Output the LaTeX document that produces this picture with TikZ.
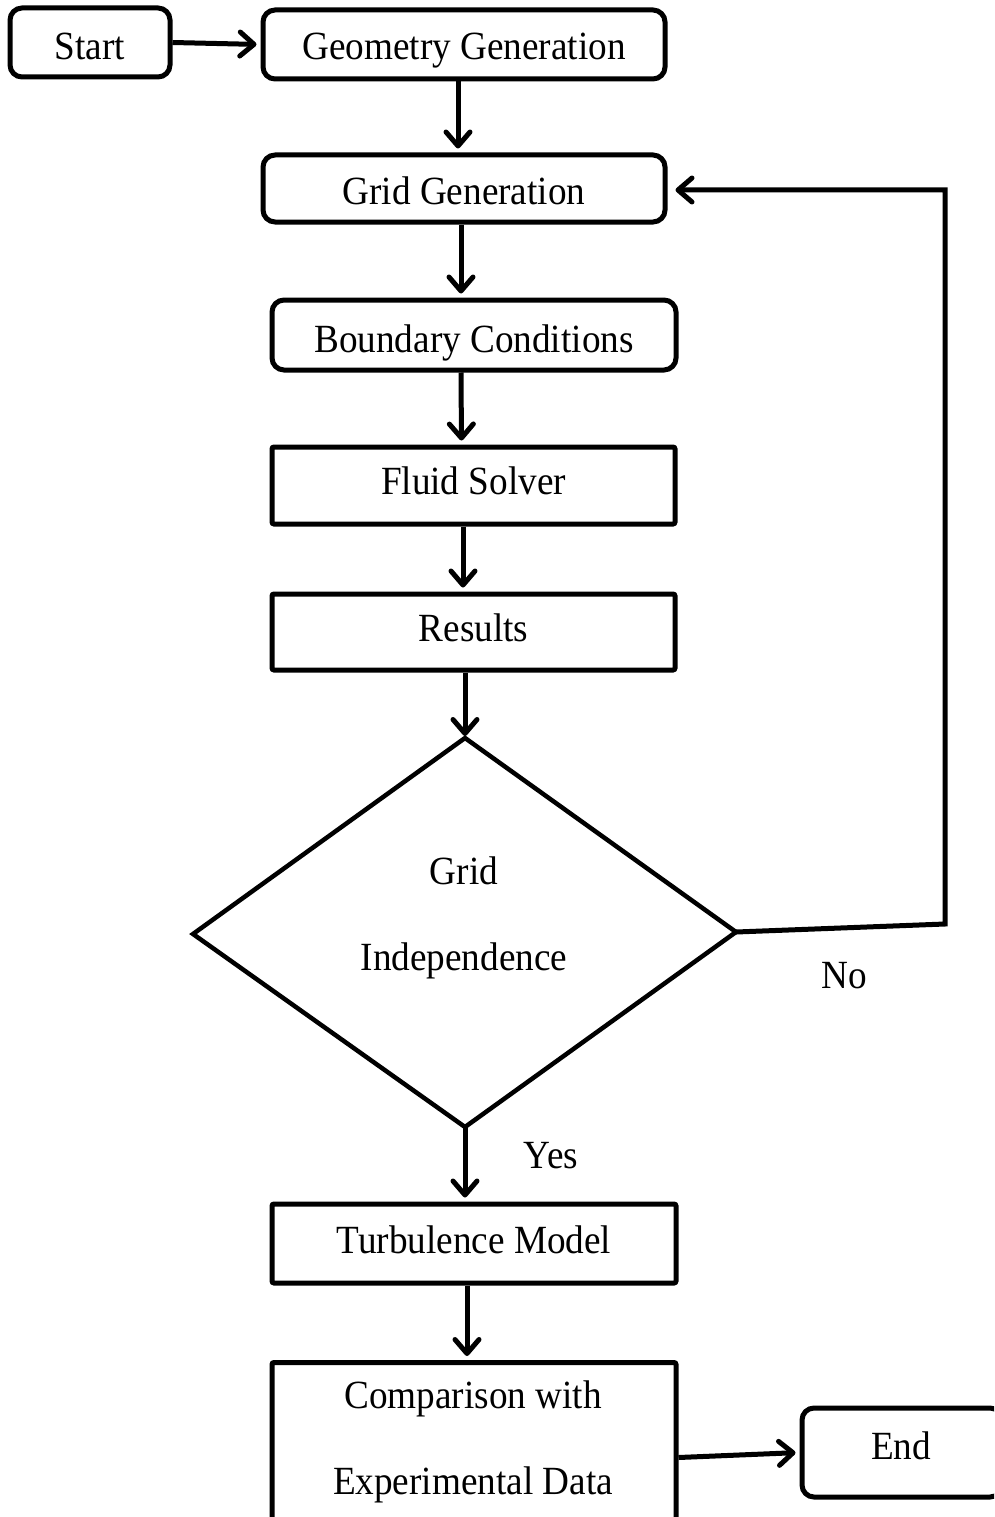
\documentclass[tikz,border=0pt]{standalone}
\usepackage{fontspec}
\setmainfont{Liberation Serif}[FakeStretch=0.93]
\usetikzlibrary{arrows.meta}
\tikzset{
  boxbase/.style={draw, line width=5pt, inner sep=0pt, text height=27pt, text depth=0pt,
    font=\fontsize{40}{48}\selectfont},
  roundbox/.style={boxbase, rounded corners=12pt},
  sharpbox/.style={boxbase, rounded corners=2pt},
  flowarrow/.style={line width=5pt, -{Straight Barb[length=14pt,width=24pt,round]}, line join=round, shorten >=4pt},
  plaintext/.style={inner sep=0pt, text height=27pt, text depth=0pt, font=\fontsize{40}{48}\selectfont},
}
\begin{document}
\begin{tikzpicture}[x=1pt,y=-1pt]
\useasboundingbox (0,0) rectangle (994,1517);
\clip (0,0) rectangle (994,1517);

% process boxes (text height/depth nudge the label within each box)
\node[roundbox, minimum width=160pt, minimum height=69pt, text height=35pt] (start) at (90,42.5) {Start};
\node[roundbox, minimum width=402pt, minimum height=69pt, text height=31pt] (geo) at (464,44.5) {Geometry Generation};
\node[roundbox, minimum width=402pt, minimum height=67pt, text height=32pt] (grid) at (464,188.5) {Grid Generation};
\node[roundbox, minimum width=404pt, minimum height=70pt, text height=35pt] (bc) at (474,335) {Boundary Conditions};
\node[sharpbox, minimum width=403pt, minimum height=77pt, text depth=9pt] (fluid) at (473.5,485.5) {Fluid Solver};
\node[sharpbox, minimum width=403pt, minimum height=76pt, text depth=8pt] (res) at (473.5,632) {Results};

% decision
\coordinate (dtop) at (465,738);
\coordinate (dleft) at (193,934);
\coordinate (dright) at (736,932);
\coordinate (dbot) at (465,1127);
\draw[line width=4.5pt, line join=miter] (dtop) -- (dright) -- (dbot) -- (dleft) -- cycle;
\node[plaintext] (dtext1) at (464,871) {Grid};
\node[plaintext] (dtext2) at (464,957) {Independence};

\node[sharpbox, minimum width=404pt, minimum height=79pt, text depth=7pt] (turb) at (474,1243.5) {Turbulence Model};
\node[sharpbox, minimum width=404pt, minimum height=190pt, anchor=north] (comp) at (474,1360) {};
\node[plaintext] (comptext1) at (473,1395) {Comparison with};
\node[plaintext] (comptext2) at (473,1481) {Experimental Data};
\node[roundbox, minimum width=200pt, minimum height=89pt] (finish) at (902,1452.5) {};
\node[plaintext] (finishtext) at (901,1446) {End};

% labels
\node[plaintext] (nolabel) at (844,975) {No};
\node[plaintext] (yeslabel) at (551,1155) {Yes};

% connectors
\draw[flowarrow] (start.east) -- (geo.west);
\draw[flowarrow] ([xshift=-6pt]geo.south) -- ([xshift=-6pt]grid.north);
\draw[flowarrow] ([xshift=-3pt]grid.south) -- ([xshift=-3pt]grid.south |- bc.north);
\draw[flowarrow] ([xshift=-13pt]bc.south) -- ([xshift=-12pt]fluid.north);
\draw[flowarrow] ([xshift=-10.5pt]fluid.south) -- ([xshift=-10.5pt]res.north);
\draw[flowarrow, shorten >=2pt] ([xshift=-8.5pt]res.south) -- (dtop);
\coordinate (nolow) at (945,924);
\coordinate (nohigh) at (945,190);
\draw[flowarrow, line join=miter, shorten >=8pt] (dright) -- (nolow) -- (nohigh) -- (grid.east |- nohigh);
\draw[flowarrow] (dbot) -- (dbot |- turb.north);
\draw[flowarrow] ([xshift=-7pt]turb.south) -- ([xshift=-7pt]comp.north);
\draw[flowarrow] (comp.east) -- (finish.west);
\end{tikzpicture}
\end{document}
